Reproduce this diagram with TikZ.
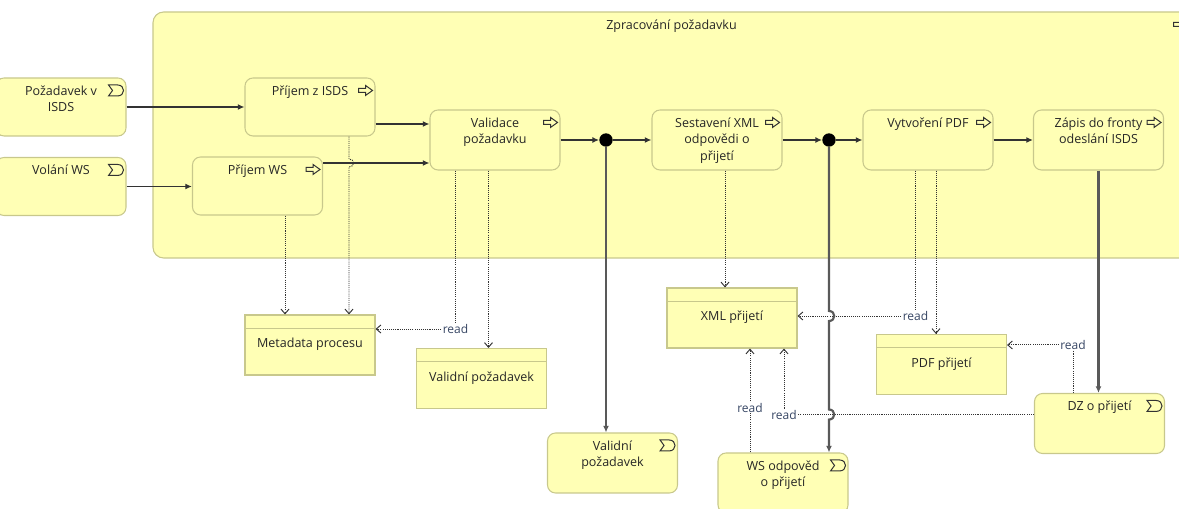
\documentclass[tikz,border=0pt]{standalone}
\usepackage{fontspec}
\setmainfont{Open Sans}
\usetikzlibrary{arrows.meta,calc}

\definecolor{archiyellow}{RGB}{255,255,181}
\definecolor{boxline}{RGB}{200,200,140}
\definecolor{readblue}{RGB}{55,70,100}

\tikzset{
  box/.style={draw=boxline, fill=archiyellow, line width=0.8pt, inner sep=0pt},
  proc/.style={box, rounded corners=6pt, minimum width=97.5pt, minimum height=45pt},
  dobj/.style={box, minimum width=97.5pt, minimum height=45pt},
  txt/.style={anchor=north, inner sep=0pt, yshift=-4.5pt, align=center, text=black!85,
    font=\fontsize{9.4}{12.4}\selectfont},
  dtxt/.style={txt, yshift=-11.5pt},
  trig/.style={draw=black!80, line width=1.2pt, -{Latex[length=5pt,width=4.5pt]}},
  trigv/.style={trig, draw=black!65, line width=1.6pt},
  acc/.style={draw=black!80, line width=0.7pt, dash pattern=on 0.8pt off 0.8pt,
    -{Straight Barb[length=3.5pt,width=6pt]}},
  rd/.style={fill=white, inner sep=0.5pt, text=readblue, font=\fontsize{9}{10}\selectfont},
  junc/.style={circle, fill=black, inner sep=0pt, minimum size=10pt},
  icon/.style={draw=black!80, line width=0.75pt},
  procicon/.pic={\draw[icon] (-7,-2) -- (0,-2) -- (0,-5) -- (7,0) -- (0,5) -- (0,2) -- (-7,2) -- cycle;},
  evicon/.pic={\draw[icon] (-7,-5.5) -- (2,-5.5) .. controls (10,-5.5) and (10,5.5) .. (2,5.5) -- (-7,5.5) -- (-3,0) -- cycle;}
}

\begin{document}
\begin{tikzpicture}[x=0.75pt, y=-0.75pt]
  \useasboundingbox (0,0) rectangle (1179,509);
  \clip (0,0) rectangle (1179,509);
  % Kontejner
  \node[proc, rounded corners=8pt, minimum width=777.75pt, minimum height=184.5pt,
    label={[txt]north:\strut Zpracování požadavku}] (zp) at (671.5,135) {};
  % Udalosti vlevo
  \node[proc, minimum height=43.5pt, label={[txt]north:\strut Požadavek v\\ISDS}] (ev1) at (61,107) {};
  \node[proc, minimum height=43.5pt, label={[txt]north:\strut Volání WS}] (ev2) at (61,186.5) {};
  % Procesy
  \node[proc, minimum height=43.5pt, label={[txt]north:\strut Příjem z ISDS}] (p1) at (310,107) {};
  \node[proc, minimum height=43.5pt, label={[txt]north:\strut Příjem WS}] (p2) at (257.5,186) {};
  \node[proc, label={[txt]north:\strut Validace\\požadavku}] (p3) at (495,140) {};
  \node[junc] (j1) at (606,140) {};
  \node[proc, label={[txt]north:\strut Sestavení XML\\odpovědi o\\přijetí}] (p4) at (717,140) {};
  \node[junc] (j2) at (829,140) {};
  \node[proc, label={[txt]north:\strut Vytvoření PDF}] (p5) at (928,140) {};
  \node[proc, label={[txt]north:\strut Zápis do fronty\\odeslání ISDS}] (p6) at (1098.5,140) {};
  % Datove objekty
  \node[dobj, label={[dtxt]north:\strut Metadata procesu}] (d1) at (310,345) {};
  \node[dobj, label={[dtxt]north:\strut Validní požadavek}] (d2) at (481.5,378.5) {};
  \node[dobj, label={[dtxt]north:\strut XML přijetí}] (d3) at (732,318) {};
  \node[dobj, label={[dtxt]north:\strut PDF přijetí}] (d4) at (941.5,364.5) {};
  \foreach \d in {d1,d2,d3,d4}
    \draw[boxline, line width=0.8pt] ($(\d.north west)+(0,14)$) -- ($(\d.north east)+(0,14)$);
  % Udalosti dole
  \node[proc, label={[txt]north:\strut Validní\\požadavek}] (e3) at (612.5,463) {};
  \node[proc, label={[txt]north:\strut WS odpověd\\o přijetí}] (e4) at (783,483) {};
  \node[proc, label={[txt]north:\strut DZ o přijetí}] (e5) at (1099.5,423.5) {};
  % Ikony
  \foreach \n in {zp,p1,p2,p3,p4,p5,p6}
    \pic at ($(\n.north east)+(-10,13)$) {procicon};
  \foreach \n in {ev1,ev2,e3,e4,e5}
    \pic at ($(\n.north east)+(-11,13)$) {evicon};

  % Pristup k datum
  \coordinate (a1) at ($(d1.north)+(-25,0)$);
  \coordinate (a2) at ($(d1.north)+(39,0)$);
  \coordinate (p3in1) at ($(p3.west)+(0,-16)$);
  \coordinate (p3in2) at ($(p3.west)+(0,23)$);
  \coordinate (k0) at (a2 |- p3in2);
  \draw[acc] (p2.south -| a1) -- (a1);
  \draw[acc] (p1.south -| a2) -- ($(k0)+(0,-4)$) .. controls +(6,0) and +(6,0) .. ($(k0)+(0,4)$) -- (a2);
  \coordinate (r1) at ($(d1.east)+(80,-16)$);
  \draw[acc] (p3.south -| r1) -- (r1) -- (r1 -| d1.east);
  \node[rd] (rd1) at (r1) {read};
  \coordinate (a3) at ($(d2.north)+(7,0)$);
  \draw[acc] (p3.south -| a3) -- (a3);
  \coordinate (a4) at ($(d3.north)+(-7,0)$);
  \draw[acc] (p4.south -| a4) -- (a4);
  \coordinate (r2) at ($(d3.east)+(118,-2)$);
  \draw[acc] (p5.south -| r2) -- (r2) -- (r2 -| d3.east);
  \node[rd] (rd2) at (r2) {read};
  \coordinate (a5) at ($(d4.north)+(-5.5,0)$);
  \draw[acc] (p5.south -| a5) -- (a5);
  \coordinate (r3) at ($(d4.north east)+(66,11)$);
  \draw[acc] (e5.north -| r3) -- (r3) -- (r3 -| d4.east);
  \node[rd] (rd3) at (r3) {read};
  \coordinate (a6) at ($(d3.south)+(18,0)$);
  \draw[acc] (e4.north -| a6) -- (a6) node[rd, pos=0.43] (rd4) {read};
  \coordinate (r4) at ($(d3.south)+(52,66)$);
  \draw[acc] (r4 -| e5.west) -- (r4) -- (r4 |- d3.south);
  \node[rd] (rd5) at (r4) {read};

  % Spousteni
  \draw[trig] (ev1.east) -- (p1.west);
  \draw[trig] (ev2.east) -- (ev2.east -| p2.west);
  \draw[trig] (p1.east |- p3in1) -- (p3in1);
  \draw[trig] (p2.east |- p3in2) -- (p3in2);
  \draw[trig] (p3.east) -- (j1.west);
  \draw[trig] (j1.east) -- (p4.west);
  \draw[trig] (p4.east) -- (j2.west);
  \draw[trig] (j2.east) -- (p5.west);
  \draw[trig] (p5.east) -- (p6.west);
  \draw[trigv] (j1.south) -- (j1 |- e3.north);
  \coordinate (k1) at (j2 |- r2);
  \coordinate (k2) at (j2 |- r4);
  \draw[trigv] (j2.south) -- ($(k1)+(0,-5)$) .. controls +(7,0) and +(7,0) .. ($(k1)+(0,5)$)
    -- ($(k2)+(0,-5)$) .. controls +(7,0) and +(7,0) .. ($(k2)+(0,5)$) -- (j2 |- e4.north);
  \draw[trigv] (p6.south) -- (p6.south |- e5.north);
\end{tikzpicture}
\end{document}
